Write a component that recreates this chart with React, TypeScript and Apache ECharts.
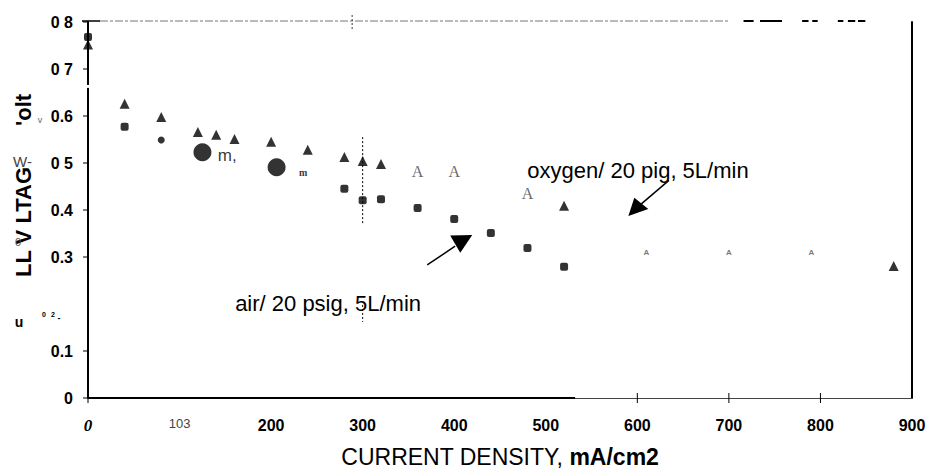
import React, { useEffect, useRef } from "react";
import * as echarts from "echarts";

// ---- data ----
const X_TICK_LABELS = ["0", "103", "200", "300", "400", "500", "600", "700", "800", "900"];
const Y_TICK_LABELS = ["0", "0.1", "", "0.3", "0.4", "0 5", "0.6", "0 7", "0 8"];
const Y_TICK_MARKS = [0, 0.1, 0.3, 0.4, 0.5, 0.6, 0.7, 0.8];

// oxygen / 20 psig, 5 L/min
const oxygenTriangles = [
  [0, 0.752], [40, 0.626], [80, 0.598], [120, 0.566], [140, 0.56], [160, 0.551],
  [200, 0.545], [240, 0.528], [280, 0.513], [300, 0.504], [320, 0.498],
  [520, 0.409], [880, 0.281],
];
const oxygenLetterA = [[360, 0.481], [400, 0.481], [480, 0.436]];
const oxygenSmallA = [[610, 0.309], [700, 0.309], [790, 0.309]];

// air / 20 psig, 5 L/min
const airSquares = [
  [0, 0.768], [40, 0.577], [280, 0.445], [300, 0.421], [320, 0.423], [360, 0.404],
  [400, 0.381], [440, 0.351], [480, 0.319], [520, 0.279],
];
const airSmallCircles = [[80, 0.549]];
const airBigCircles = [[125, 0.523], [206, 0.491]];
const airMComma = [[152, 0.517]];
const airMSmall = [[235, 0.479]];

// annotations (data coordinates)
const AIR_ARROW_LINE = [[370.5, 0.283], [401, 0.323]];
const AIR_ARROW_HEAD = [[395.6, 0.346], [419.7, 0.347], [406.6, 0.309]];
const OX_ARROW_LINE = [[604.4, 0.413], [634.5, 0.463]];
const OX_ARROW_HEAD = [[590.2, 0.387], [596.7, 0.426], [612, 0.402]];
const OX_LABEL_AT = [479.8, 0.485];
const AIR_LABEL_AT = [160.7, 0.202];
const DOTTED_X = 300;
const DOTTED_SEGMENTS = [[0.555, 0.372], [0.198, 0.162]];
const X_EXTRA_TICKS = [0, 600, 700, 800];
const X_SOLID_END = 532;
const TOP_DASHES = [[716, 727], [734, 758], [780, 787], [791, 797], [819, 825], [830, 838], [841, 849]];
const TOP_GREY_END = 700;

const SANS = '"Liberation Sans", Arial, sans-serif';
const SERIF = '"Liberation Serif", "Times New Roman", serif';

export default function App() {
  const ref = useRef<HTMLDivElement>(null);

  useEffect(() => {
    if (!ref.current) return;
    const chart = echarts.init(ref.current, undefined, { renderer: "svg" });

    const textScatter = (data: number[][], text: string, label: any) => ({
      type: "scatter",
      data,
      symbol: "circle",
      symbolSize: 1,
      silent: true,
      itemStyle: { color: "transparent" },
      label: { show: true, position: "inside", formatter: text, ...label },
      z: 3,
    });

    chart.setOption({
      animation: false,
      backgroundColor: "#fff",
      grid: { left: 88, right: 15, top: 22, bottom: 75, containLabel: false, outerBoundsMode: "none" },
      xAxis: {
        type: "value",
        min: 0,
        max: 900,
        interval: 100,
        splitLine: { show: false },
        axisTick: { show: false },
        axisLine: { show: true, lineStyle: { color: "#444", width: 1 } },
        axisLabel: {
          margin: 19,
          formatter: (v: number) => {
            const i = Math.round(v / 100);
            const t = X_TICK_LABELS[i] ?? "";
            if (i === 0) return `{it|${t}}`;
            if (i === 1) return `{sm|${t}}`;
            return `{b|${t}}`;
          },
          rich: {
            it: { fontFamily: SERIF, fontStyle: "italic", fontWeight: "bold", fontSize: 17, color: "#000" },
            sm: { fontFamily: SANS, fontSize: 13, color: "#444" },
            b: { fontFamily: SANS, fontWeight: "bold", fontSize: 16, color: "#000" },
          },
        },
        name: "{n|CURRENT DENSITY, }{b|mA/cm2}",
        nameLocation: "middle",
        nameGap: 47,
        nameTextStyle: {
          rich: {
            n: { fontFamily: SANS, fontSize: 23, color: "#000" },
            b: { fontFamily: SANS, fontSize: 23, fontWeight: "bold", color: "#000" },
          },
        },
      },
      yAxis: [
        {
          type: "value",
          min: 0,
          max: 0.8,
          interval: 0.1,
          splitLine: { show: false },
          axisLine: { show: true, lineStyle: { color: "#000", width: 2 } },
          axisTick: { show: false },
          axisLabel: {
            margin: 15,
            fontFamily: SANS,
            fontWeight: "bold",
            fontSize: 16,
            color: "#000",
            formatter: (v: number) => Y_TICK_LABELS[Math.round(v * 10)] ?? "",
          },
        },
        {
          type: "value",
          position: "right",
          min: 0,
          max: 0.8,
          interval: 0.1,
          splitLine: { show: false },
          axisLine: { show: true, lineStyle: { color: "#000", width: 2 } },
          axisTick: { show: false },
          axisLabel: { show: false },
        },
      ],
      series: [
        { type: "scatter", name: "oxygen", data: oxygenTriangles, symbol: "triangle", symbolSize: [10, 10], itemStyle: { color: "#000" }, z: 4 },
        { type: "scatter", name: "air", data: airSquares, symbol: "roundRect", symbolSize: [8, 8], itemStyle: { color: "#000" }, z: 4 },
        { type: "scatter", name: "air-dot", data: airSmallCircles, symbol: "circle", symbolSize: 7, itemStyle: { color: "#000" }, z: 4 },
        { type: "scatter", name: "air-big", data: airBigCircles, symbol: "circle", symbolSize: 18, itemStyle: { color: "#000" }, z: 4 },
        textScatter(oxygenLetterA, "A", { fontFamily: SERIF, fontSize: 16, color: "#444" }),
        textScatter(oxygenSmallA, "A", { fontFamily: SANS, fontWeight: "bold", fontSize: 8, color: "#555" }),
        textScatter(airMComma, "m,", { fontFamily: SANS, fontSize: 17, color: "#000" }),
        textScatter(airMSmall, "m", { fontFamily: SERIF, fontWeight: "bold", fontSize: 10, color: "#000" }),
      ],
    });

    const P = (x: number, y: number) => chart.convertToPixel({ gridIndex: 0 }, [x, y]) as number[];
    const [x0, yBottom] = P(0, 0);
    const yTop = P(0, 0.8)[1];

    const graphic: any[] = [];
    const line = (a: number[], b: number[], stroke: string, lineWidth: number, lineDash?: number[]) =>
      graphic.push({
        type: "line",
        silent: true,
        shape: { x1: a[0], y1: a[1], x2: b[0], y2: b[1] },
        style: { stroke, lineWidth, lineDash },
        z: 10,
      });

    // top border
    line([x0 - 6, yTop - 1], [x0 + 12, yTop - 1], "#000", 1.5);
    line([x0 + 12, yTop - 1], [P(TOP_GREY_END, 0)[0], yTop - 1], "#777", 1, [8, 2, 3, 2]);
    TOP_DASHES.forEach(([a, b]) => line([P(a, 0)[0], yTop - 1], [P(b, 0)[0], yTop - 1], "#000", 2));
    const tx = P(288.5, 0)[0];
    line([tx, yTop - 7], [tx, yTop + 8], "#333", 1, [2, 2]);

    // left axis ticks (0.2 has none in the scan) and small gap
    Y_TICK_MARKS.forEach((v) => {
      const py = P(0, v)[1];
      line([x0 - 5, py], [v === 0 ? x0 + 3 : x0, py], "#000", 1);
    });
    const gy = P(0, 0.663)[1];
    graphic.push({ type: "rect", silent: true, shape: { x: x0 - 2, y: gy - 1.5, width: 4, height: 3 }, style: { fill: "#fff" }, z: 9 });

    // bottom axis: solid part and crossing ticks
    line([x0, yBottom], [P(X_SOLID_END, 0)[0], yBottom], "#000", 2);
    X_EXTRA_TICKS.forEach((v) => {
      const px = P(v, 0)[0];
      line([px, yBottom - 5], [px, yBottom + 5], "#000", 1);
    });

    // dotted vertical line at 300
    DOTTED_SEGMENTS.forEach(([a, b]) => line(P(DOTTED_X, a), P(DOTTED_X, b), "#000", 1, [2, 2]));

    // arrows
    line(P(AIR_ARROW_LINE[0][0], AIR_ARROW_LINE[0][1]), P(AIR_ARROW_LINE[1][0], AIR_ARROW_LINE[1][1]), "#000", 1.5);
    graphic.push({ type: "polygon", silent: true, shape: { points: AIR_ARROW_HEAD.map(([x, y]) => P(x, y)) }, style: { fill: "#000" }, z: 10 });
    line(P(OX_ARROW_LINE[0][0], OX_ARROW_LINE[0][1]), P(OX_ARROW_LINE[1][0], OX_ARROW_LINE[1][1]), "#000", 1.5);
    graphic.push({ type: "polygon", silent: true, shape: { points: OX_ARROW_HEAD.map(([x, y]) => P(x, y)) }, style: { fill: "#000" }, z: 10 });

    const text = (x: number, y: number, t: string, font: string, fill = "#000", align = "left", extra: any = {}) =>
      graphic.push({
        type: "text",
        silent: true,
        x,
        y,
        ...extra,
        style: { text: t, font, fill, align, verticalAlign: "middle", textAlign: align, textVerticalAlign: "middle" },
        z: 11,
      });

    const ox = P(OX_LABEL_AT[0], OX_LABEL_AT[1]);
    text(ox[0], ox[1], "oxygen/ 20 pig, 5L/min", `22px ${SANS}`);
    const air = P(AIR_LABEL_AT[0], AIR_LABEL_AT[1]);
    text(air[0], air[1], "air/ 20 psig, 5L/min", `22px ${SANS}`);

    // y axis title (scan-garbled)
    text(23, 277, "LL V LTAG", `bold 22px ${SANS}`, "#000", "left", { rotation: Math.PI / 2 });
    text(23, 126, "'olt", `bold 22px ${SANS}`, "#000", "left", { rotation: Math.PI / 2 });
    text(13, 161, "W-", `15px ${SANS}`, "#444");
    text(18, 242, "0", `11px ${SANS}`, "#555", "center");
    text(40, 120, "v", `9px ${SANS}`, "#666", "center");
    text(19, 322, "u", `bold 14px ${SANS}`, "#000", "center");
    text(44, 314, "0", `bold 7px ${SANS}`, "#000", "center");
    text(53, 314, "2", `bold 7px ${SANS}`, "#000", "center");
    text(59, 318, "-", `bold 9px ${SANS}`, "#000", "center");

    chart.setOption({ graphic });

    return () => chart.dispose();
  }, []);

  return <div ref={ref} style={{ position: "fixed", left: 0, top: 0, width: 927, height: 473 }} />;
}
